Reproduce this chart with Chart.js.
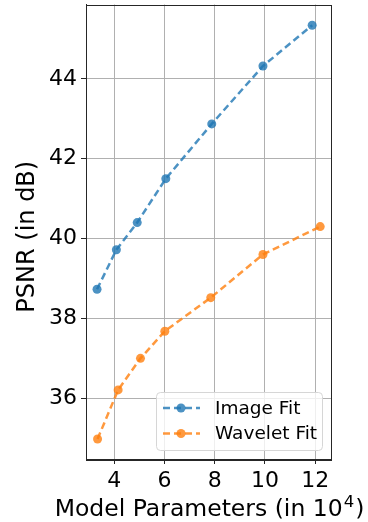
<!DOCTYPE html>
<html>
<head>
<meta charset="utf-8">
<script src="https://cdn.jsdelivr.net/npm/chart.js@4.4.1/dist/chart.umd.min.js"></script>
<style>
  html, body { margin: 0; padding: 0; background: #fff; }
  #wrap { width: 368px; height: 522px; }
</style>
</head>
<body>
<div id="wrap"><canvas id="psnrChart" width="368" height="522"></canvas></div>
<script>
// values
const imageParams = [3.31, 4.08, 4.91, 6.05, 7.88, 9.92, 11.88];
const imagePsnr = [38.73, 39.72, 40.40, 41.50, 42.87, 44.32, 45.34];
const waveletParams = [3.33, 4.15, 5.04, 6.01, 7.84, 9.92, 12.20];
const waveletPsnr = [34.98, 36.21, 37.00, 37.68, 38.52, 39.60, 40.30];
const xTicks = [4, 6, 8, 10, 12];
const yTicks = [36, 38, 40, 42, 44];
const seriesNames = ['Image Fit', 'Wavelet Fit'];
const xTitle = ['Model Parameters (in 10', '4', ')'];
const yTitle = 'PSNR (in dB)';

const FONT = "'DejaVu Sans', sans-serif";
const blue = 'rgba(31, 119, 180, 0.8)';
const orange = 'rgba(255, 127, 14, 0.8)';

function toPoints(xs, ys) {
    return xs.map((x, i) => ({ x: x, y: ys[i] }));
}

// frame, axis titles (wider than the plot, with a superscript) and legend inside the plot
const framePlugin = {
    id: 'frameAndLegend',
    afterDraw(chart) {
        const ctx = chart.ctx;
        const a = chart.chartArea;
        ctx.save();
        ctx.strokeStyle = '#262626';
        ctx.lineWidth = 1;
        ctx.strokeRect(Math.round(a.left) + 0.5, Math.round(a.top) + 0.5,
            Math.round(a.right - a.left), Math.round(a.bottom - a.top));

        // x title
        ctx.fillStyle = '#000';
        ctx.textBaseline = 'alphabetic';
        ctx.textAlign = 'left';
        ctx.font = '23.5px ' + FONT;
        const w0 = ctx.measureText(xTitle[0]).width;
        const w2 = ctx.measureText(xTitle[2]).width;
        ctx.font = '16.5px ' + FONT;
        const w1 = ctx.measureText(xTitle[1]).width;
        let tx = (a.left + a.right) / 2 - (w0 + w1 + w2) / 2;
        const base = 516;
        ctx.font = '23.5px ' + FONT;
        ctx.fillText(xTitle[0], tx, base);
        ctx.font = '16.5px ' + FONT;
        ctx.fillText(xTitle[1], tx + w0 + 1, base - 9);
        ctx.font = '23.5px ' + FONT;
        ctx.fillText(xTitle[2], tx + w0 + w1 + 2, base);

        // y title
        ctx.save();
        ctx.translate(28, (a.top + a.bottom) / 2 + 5);
        ctx.rotate(-Math.PI / 2);
        ctx.textAlign = 'center';
        ctx.textBaseline = 'middle';
        ctx.font = '24px ' + FONT;
        ctx.fillText(yTitle, 0, 0);
        ctx.restore();

        // legend box
        const bx = a.right - 175, by = a.bottom - 67, bw = 166, bh = 58;
        ctx.beginPath();
        ctx.roundRect(bx + 0.5, by + 0.5, bw, bh, 4);
        ctx.fillStyle = 'rgba(255,255,255,0.8)';
        ctx.fill();
        ctx.strokeStyle = '#d6d6d6';
        ctx.stroke();

        chart.data.datasets.forEach((ds, i) => {
            const cy = by + 16 + i * 25.5;
            ctx.beginPath();
            ctx.setLineDash([7, 4]);
            ctx.lineWidth = 2.5;
            ctx.strokeStyle = ds.borderColor;
            ctx.moveTo(bx + 7, cy);
            ctx.lineTo(bx + 44, cy);
            ctx.stroke();
            ctx.setLineDash([]);
            ctx.beginPath();
            ctx.arc(bx + 25, cy, 4.5, 0, Math.PI * 2);
            ctx.fillStyle = ds.backgroundColor;
            ctx.fill();
            ctx.fillStyle = '#000';
            ctx.font = '18.5px ' + FONT;
            ctx.textBaseline = 'middle';
            ctx.textAlign = 'left';
            ctx.fillText(ds.label, bx + 59, cy + 1);
        });
        ctx.restore();
    }
};

const ctx = document.getElementById('psnrChart').getContext('2d');
new Chart(ctx, {
    type: 'line',
    data: {
        datasets: [{
            label: seriesNames[0],
            data: toPoints(imageParams, imagePsnr),
            borderColor: blue,
            backgroundColor: blue,
            borderWidth: 2.5,
            borderDash: [7, 4],
            pointRadius: 4.5,
            pointBorderWidth: 0,
            pointBackgroundColor: blue
        }, {
            label: seriesNames[1],
            data: toPoints(waveletParams, waveletPsnr),
            borderColor: orange,
            backgroundColor: orange,
            borderWidth: 2.5,
            borderDash: [7, 4],
            pointRadius: 4.5,
            pointBorderWidth: 0,
            pointBackgroundColor: orange
        }]
    },
    options: {
        responsive: false,
        animation: false,
        devicePixelRatio: 1,
        layout: { padding: { top: 4, right: 37, left: 0, bottom: 0 } },
        plugins: {
            legend: { display: false },
            tooltip: { enabled: false }
        },
        scales: {
            x: {
                type: 'linear',
                min: 2.87,
                max: 12.63,
                afterFit(scale) {
                    scale.height = 63;
                    scale.paddingLeft = 0;
                    scale.paddingRight = 0;
                },
                afterBuildTicks(scale) { scale.ticks = xTicks.map(v => ({ value: v })); },
                ticks: {
                    includeBounds: false,
                    color: '#000',
                    font: { family: FONT, size: 22 },
                    padding: 4,
                    maxRotation: 0
                },
                grid: {
                    color: '#b0b0b0',
                    lineWidth: 1,
                    drawTicks: true,
                    tickLength: 5,
                    tickColor: '#262626'
                },
                border: { display: true, color: '#262626' },
                title: { display: false }
            },
            y: {
                type: 'linear',
                min: 34.48,
                max: 45.86,
                afterFit(scale) {
                    scale.width = 86;
                    scale.paddingTop = 0;
                    scale.paddingBottom = 0;
                },
                afterBuildTicks(scale) { scale.ticks = yTicks.map(v => ({ value: v })); },
                ticks: {
                    includeBounds: false,
                    color: '#000',
                    font: { family: FONT, size: 22 },
                    padding: 4
                },
                grid: {
                    color: '#b0b0b0',
                    lineWidth: 1,
                    drawTicks: true,
                    tickLength: 5,
                    tickColor: '#262626'
                },
                border: { display: true, color: '#262626' },
                title: { display: false }
            }
        }
    },
    plugins: [framePlugin]
});
</script>
</body>
</html>
